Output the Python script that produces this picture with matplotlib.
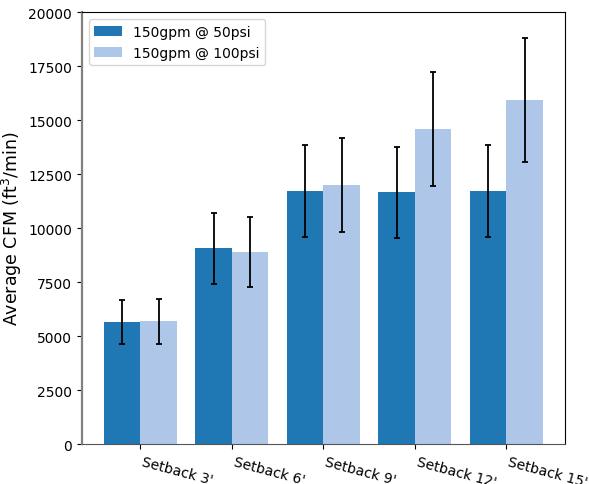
import matplotlib
matplotlib.use("Agg")
import matplotlib.pyplot as plt
import numpy as np

categories = ["Setback 3'", "Setback 6'", "Setback 9'", "Setback 12'", "Setback 15'"]
cfm_50psi = [5650, 9075, 11715, 11670, 11715]
err_50psi = [1025, 1640, 2115, 2105, 2120]
cfm_100psi = [5695, 8890, 11990, 14585, 15925]
err_100psi = [1035, 1605, 2175, 2630, 2870]

fig, ax = plt.subplots(figsize=(5.89, 4.85), dpi=100)
fig.subplots_adjust(left=0.139, right=0.959, top=0.973, bottom=0.082)

x = np.arange(len(categories))
w = 0.4
ax.bar(x - w / 2, cfm_50psi, w, yerr=err_50psi, capsize=2.5,
       color="#1f77b4", label="150gpm @ 50psi",
       error_kw=dict(ecolor="black", elinewidth=1.3, capthick=1.3))
ax.bar(x + w / 2, cfm_100psi, w, yerr=err_100psi, capsize=2.5,
       color="#aec7e8", label="150gpm @ 100psi",
       error_kw=dict(ecolor="black", elinewidth=1.3, capthick=1.3))

ax.set_xticks(x)
ax.set_xticklabels(categories, rotation=-15, ha="left", fontsize=10)
ax.set_ylim(0, 20000)
ax.set_yticks(np.arange(0, 20001, 2500))
ax.tick_params(axis="y", labelsize=10)
ax.set_ylabel("Average CFM (ft$^3$/min)", fontsize=12.5, labelpad=3)

ax.spines["left"].set_color("#808080")
ax.spines["left"].set_linewidth(1.6)
ax.spines["bottom"].set_color("#555555")

ax.legend(loc="upper left", fontsize=10)

fig.savefig("out.png", dpi=100)
